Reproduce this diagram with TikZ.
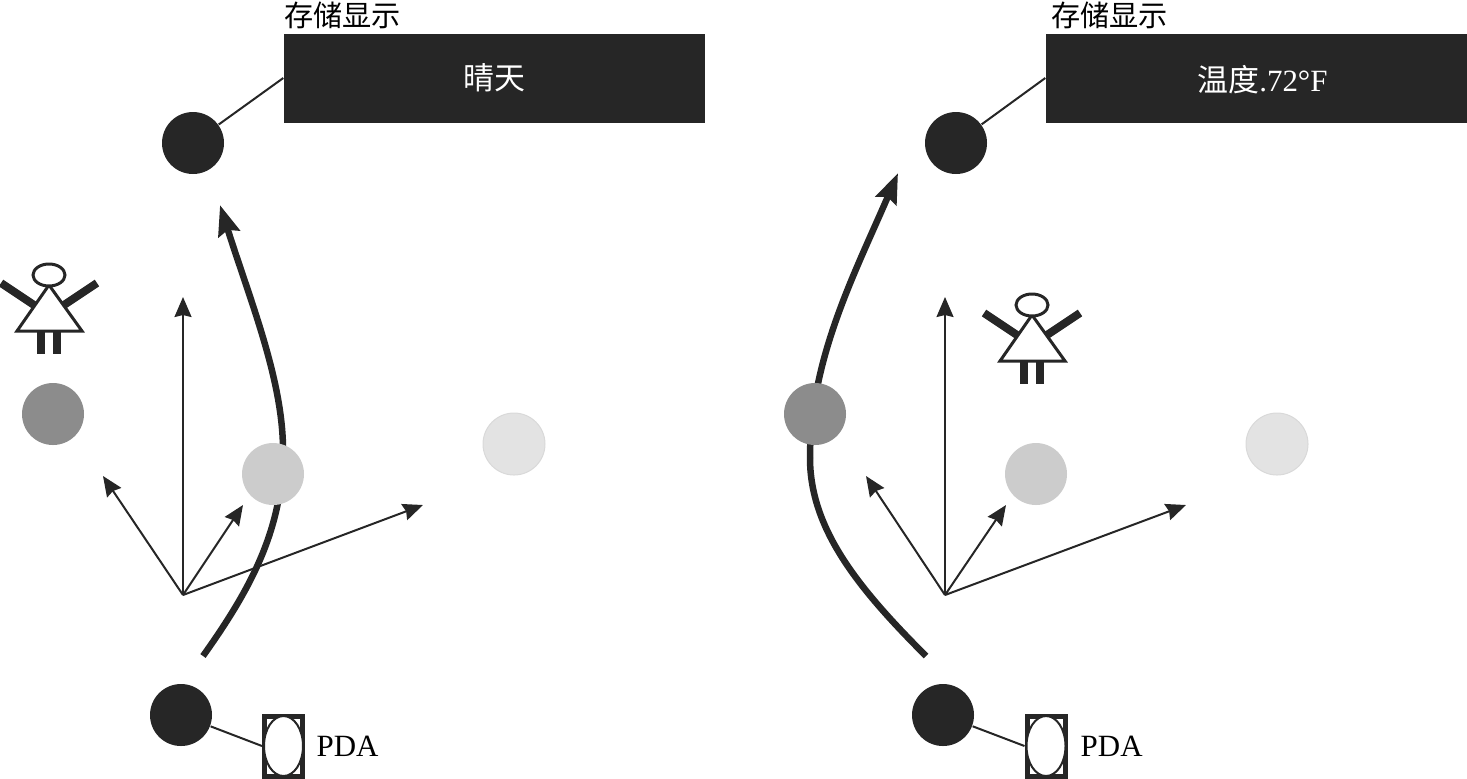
\documentclass[tikz,border=0pt]{standalone}
\usepackage{fontspec}
\setmainfont{Liberation Serif}
\newfontfamily\cjk{Noto Sans CJK SC}
\usetikzlibrary{arrows.meta,positioning,shapes.geometric}
\definecolor{inkdark}{HTML}{262626}
\tikzset{
    dot/.style={circle,fill=#1,minimum size=0.62cm,inner sep=0pt},
    ray/.style={-{Stealth[length=0.2cm,width=0.17cm,inset=0.02cm]},line width=0.02cm,draw=inkdark},
    route/.style={-{Stealth[length=0.3cm,width=0.22cm,inset=0.04cm]},line width=0.065cm,draw=inkdark},
    link/.style={line width=0.02cm,draw=inkdark},
    store/.style={rectangle,fill=inkdark,text=white,minimum width=4.21cm,minimum height=0.89cm,inner sep=0pt,font=\fontsize{8.8pt}{10pt}\selectfont},
    storelabel/.style={inner sep=0pt,font=\cjk\fontsize{8.3pt}{10pt}\selectfont},
    pda/.style={rectangle,draw=inkdark,line width=0.05cm,fill=white,minimum width=0.38cm,minimum height=0.6cm,inner sep=0pt},
    pdalens/.style={ellipse,draw=inkdark,line width=0.02cm,fill=white,minimum width=0.39cm,minimum height=0.6cm,inner sep=0pt},
    pdatext/.style={inner sep=0pt,font=\fontsize{8.8pt}{10pt}\selectfont},
    girl/.pic={
        \draw[inkdark,line width=0.08cm] (-0.47,0.3) -- (-0.14,0.08);
        \draw[inkdark,line width=0.08cm] (0.49,0.3) -- (0.16,0.08);
        \draw[inkdark,line width=0.08cm] (-0.07,-0.18) -- (-0.07,-0.41);
        \draw[inkdark,line width=0.08cm] (0.09,-0.18) -- (0.09,-0.41);
        \draw[inkdark,line width=0.03cm,fill=white,line join=miter] (0.01,0.28) -- (-0.31,-0.18) -- (0.34,-0.18) -- cycle;
        \draw[inkdark,line width=0.03cm,fill=white] (0.01,0.38) ellipse (0.16 and 0.11);
    }
}

\begin{document}
\begin{tikzpicture}
    \useasboundingbox (0,0) rectangle (14.67,7.78);

    % Left panel: routes under the nodes
    \coordinate (routeA) at (2.03,1.22);
    \coordinate (routeB) at (2.83,3.28);
    \coordinate (routeC) at (2.20,5.73);
    \draw[line width=0.065cm,draw=inkdark] (routeA) .. controls (2.50,1.88) and (2.83,2.48) .. (routeB);
    \draw[route] (routeB) .. controls (2.83,3.98) and (2.50,4.78) .. (routeC);

    % Left panel: nodes
    \node[dot=inkdark] (topA) at (1.93,6.35) {};
    \node[dot=inkdark] (botA) at (1.81,0.63) {};
    \node[dot=black!45] (grayA) at (0.53,3.64) {};
    \node[dot=black!20] (lightA) at (2.73,3.04) {};
    \node[dot=black!11,draw=black!15,line width=0.01cm] (paleA) at (5.14,3.34) {};

    % Left panel: display
    \node[store] (storeA) at (4.945,7.00) {\cjk 晴天};
    \node[storelabel,above right=0.03cm and 0cm of storeA.north west] (labelA) {存储显示};
    \draw[link] (topA) -- (storeA.west);

    % Left panel: PDA
    \node[pda] (pdaA) at (2.835,0.32) {};
    \node[pdalens] (lensA) at (2.835,0.32) {};
    \node[pdatext,anchor=west] (pdatextA) at (3.16,0.32) {PDA};
    \draw[link] (botA) -- (pdaA.west);

    % Left panel: rays
    \coordinate (hubA) at (1.83,1.83);
    \coordinate (upA) at (1.83,4.81);
    \coordinate (leftA) at (1.03,3.02);
    \coordinate (midA) at (2.43,2.73);
    \coordinate (farA) at (4.23,2.73);
    \draw[ray] (hubA) -- (upA);
    \draw[ray] (hubA) -- (leftA);
    \draw[ray] (hubA) -- (midA);
    \draw[ray] (hubA) -- (farA);

    \pic at (0.48,4.65) {girl};

    % Right panel: routes under the nodes
    \coordinate (routeD) at (9.26,1.22);
    \coordinate (routeE) at (8.10,3.20);
    \coordinate (routeF) at (8.98,6.05);
    \draw[line width=0.065cm,draw=inkdark] (routeD) .. controls (8.60,1.88) and (8.10,2.48) .. (routeE);
    \draw[route] (routeE) .. controls (8.10,4.20) and (8.55,5.05) .. (routeF);

    % Right panel: nodes
    \node[dot=inkdark] (topB) at (9.56,6.35) {};
    \node[dot=inkdark] (botB) at (9.43,0.63) {};
    \node[dot=black!45] (grayB) at (8.15,3.64) {};
    \node[dot=black!20] (lightB) at (10.36,3.04) {};
    \node[dot=black!11,draw=black!15,line width=0.01cm] (paleB) at (12.77,3.34) {};

    % Right panel: display
    \node[store,text depth=0pt] (storeB) at (12.565,7.00) {\hspace{0.12cm}{\cjk 温度}.72°F};
    \node[storelabel,above right=0.03cm and 0.05cm of storeB.north west] (labelB) {存储显示};
    \draw[link] (topB) -- (storeB.west);

    % Right panel: PDA
    \node[pda] (pdaB) at (10.46,0.32) {};
    \node[pdalens] (lensB) at (10.46,0.32) {};
    \node[pdatext,anchor=west] (pdatextB) at (10.80,0.32) {PDA};
    \draw[link] (botB) -- (pdaB.west);

    % Right panel: rays
    \coordinate (hubB) at (9.45,1.83);
    \coordinate (upB) at (9.45,4.81);
    \coordinate (leftB) at (8.66,3.02);
    \coordinate (midB) at (10.06,2.73);
    \coordinate (farB) at (11.86,2.73);
    \draw[ray] (hubB) -- (upB);
    \draw[ray] (hubB) -- (leftB);
    \draw[ray] (hubB) -- (midB);
    \draw[ray] (hubB) -- (farB);

    \pic at (10.31,4.35) {girl};
\end{tikzpicture}
\end{document}
